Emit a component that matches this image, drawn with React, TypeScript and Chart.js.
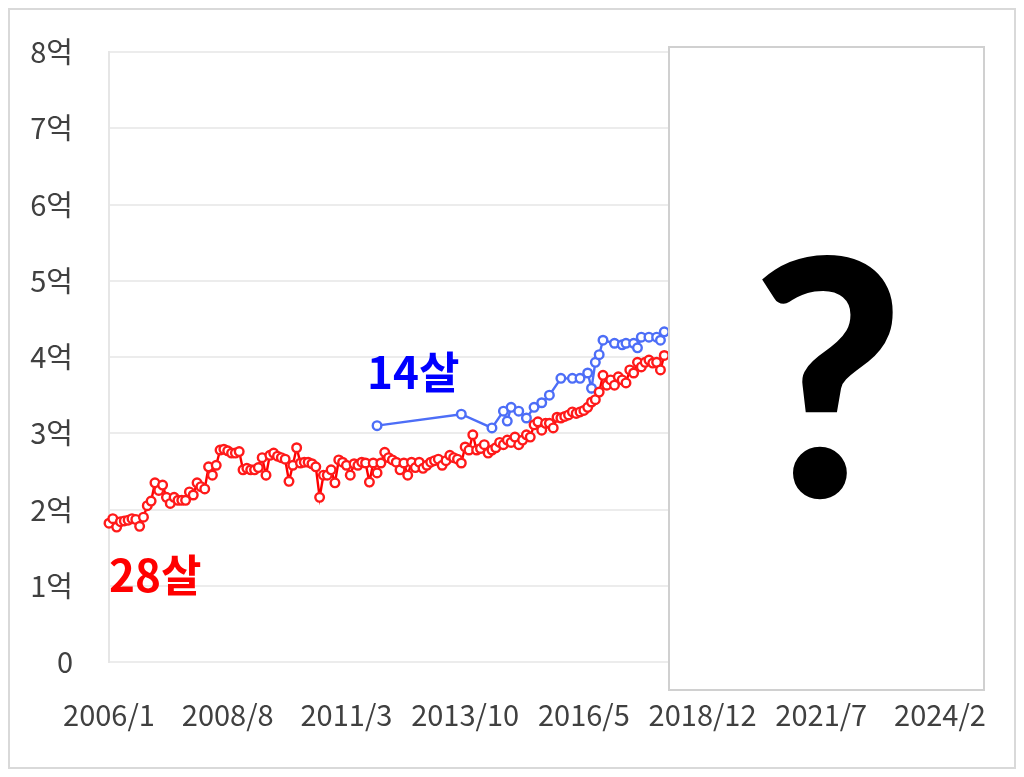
import React, { useEffect, useRef } from "react";
import { Chart, registerables } from "chart.js";

Chart.register(...registerables);

// ---- data ----
const startYear = 2006;
const monthCount = 218; // 2006/1 .. 2024/2
const tickLabels = ["2006/1", "2008/8", "2011/3", "2013/10", "2016/5", "2018/12", "2021/7", "2024/2"];
const yMax = 8;

// 28-year-old apartment, monthly from 2006/1 (억 won)
const age28Values = [
  1.82, 1.88, 1.77, 1.84, 1.85, 1.86, 1.88, 1.87, 1.78, 1.90,
  2.05, 2.11, 2.35, 2.25, 2.32, 2.16, 2.08, 2.16, 2.12, 2.12,
  2.12, 2.23, 2.19, 2.35, 2.30, 2.27, 2.56, 2.45, 2.58, 2.78,
  2.79, 2.77, 2.74, 2.74, 2.76, 2.52, 2.54, 2.52, 2.52, 2.55,
  2.68, 2.45, 2.71, 2.74, 2.70, 2.68, 2.66, 2.37, 2.58, 2.81,
  2.61, 2.62, 2.62, 2.60, 2.56, 2.16, 2.45, 2.45, 2.52, 2.35,
  2.65, 2.62, 2.58, 2.45, 2.60, 2.58, 2.62, 2.61, 2.36, 2.61,
  2.48, 2.61, 2.75, 2.68, 2.65, 2.62, 2.52, 2.61, 2.45, 2.62,
  2.55, 2.62, 2.54, 2.58, 2.62, 2.64, 2.66, 2.58, 2.64, 2.71,
  2.68, 2.66, 2.61, 2.82, 2.78, 2.98, 2.78, 2.80, 2.85, 2.74,
  2.78, 2.81, 2.88, 2.85, 2.91, 2.88, 2.95, 2.85, 2.91, 2.98,
  2.95, 3.11, 3.15, 3.04, 3.13, 3.13, 3.07, 3.21, 3.20, 3.22,
  3.24, 3.28, 3.26, 3.28, 3.30, 3.34, 3.41, 3.44, 3.54, 3.76,
  3.63, 3.70, 3.63, 3.74, 3.70, 3.66, 3.83, 3.79, 3.93, 3.87,
  3.93, 3.96, 3.92, 3.93, 3.83, 4.02,
];

// 14-year-old apartment: sparse months (index from 2006/1) and values
const age14Months = [70, 92, 100, 103, 104, 105, 107, 109, 111, 113, 115, 118, 121, 123, 125, 126, 127, 128, 129, 132, 134, 135, 137, 138, 139, 141, 143, 144, 145];
const age14Values = [3.10, 3.25, 3.07, 3.29, 3.16, 3.34, 3.29, 3.20, 3.34, 3.40, 3.50, 3.72, 3.72, 3.72, 3.79, 3.59, 3.93, 4.03, 4.22, 4.18, 4.16, 4.18, 4.18, 4.12, 4.26, 4.26, 4.26, 4.22, 4.33];

const label28 = "28살";
const label14 = "14살";
const hiddenMark = "?";

const months: string[] = [];
for (let k = 0; k < monthCount; k++) {
  months.push(`${startYear + Math.floor(k / 12)}/${(k % 12) + 1}`);
}

const FONT = '"Noto Sans CJK KR", "Malgun Gothic", sans-serif';
const CLEAR = "rgba(0,0,0,0)";

const overlayPlugin = {
  id: "overlay",
  afterDatasetsDraw(chart: any) {
    const { ctx } = chart;
    ctx.save();
    // series labels
    ctx.textBaseline = "alphabetic";
    ctx.textAlign = "left";
    ctx.font = `bold 44px ${FONT}`;
    ctx.fillStyle = "#ff0000";
    ctx.fillText(label28, 99, 582);
    ctx.fillStyle = "#0000ff";
    ctx.fillText(label14, 357, 379);

    // cover box with question mark
    ctx.fillStyle = "#ffffff";
    ctx.fillRect(659, 37, 315, 643);
    ctx.strokeStyle = "#d0d0d0";
    ctx.lineWidth = 2;
    ctx.strokeRect(659, 37, 315, 643);
    ctx.fillStyle = "#000000";
    ctx.textAlign = "center";
    ctx.font = `900 330px Lato, "Noto Sans", sans-serif`;
    ctx.fillText(hiddenMark, 818, 487);
    ctx.restore();
  },
};

export default function App() {
  const ref = useRef<HTMLCanvasElement | null>(null);

  useEffect(() => {
    if (!ref.current) return;
    const chart = new Chart(ref.current, {
      type: "line",
      data: {
        labels: months,
        datasets: [
          {
            label: label28,
            data: age28Values,
            borderColor: "#ff0000",
            backgroundColor: "#ffffff",
            pointBackgroundColor: "#ffffff",
            pointBorderColor: "#ff1a1a",
            borderWidth: 2.4,
            pointRadius: 4.3,
            pointBorderWidth: 2.4,
            tension: 0,
          },
          {
            label: label14,
            data: age14Months.map((m, i) => ({ x: months[m], y: age14Values[i] })) as any,
            borderColor: "#4d6ef7",
            backgroundColor: "#ffffff",
            pointBackgroundColor: "#ffffff",
            pointBorderColor: "#4d6ef7",
            borderWidth: 2.4,
            pointRadius: 4.3,
            pointBorderWidth: 2.4,
            tension: 0,
          },
        ],
      },
      options: {
        animation: false,
        responsive: true,
        maintainAspectRatio: false,
        layout: { padding: { top: 42, right: 74, left: 0, bottom: 0 } },
        plugins: {
          legend: { display: false },
          tooltip: { enabled: false },
        },
        scales: {
          x: {
            type: "category",
            offset: false,
            grid: { display: true, color: CLEAR, drawTicks: true, tickLength: 36, tickColor: CLEAR },
            border: { display: false },
            afterFit: (s: any) => {
              s.height = 105;
            },
            ticks: {
              autoSkip: false,
              maxRotation: 0,
              minRotation: 0,
              padding: 0,
              color: "#404040",
              font: { family: FONT, size: 29 },
              callback: function (this: any, _v: any, idx: number) {
                const lab = months[idx];
                return tickLabels.includes(lab) ? lab : null;
              },
            },
          },
          y: {
            min: 0,
            max: yMax,
            grid: { color: "#ececec", lineWidth: 2, drawTicks: true, tickLength: 36, tickColor: CLEAR },
            border: { display: true, color: "#e6e6e6", width: 2 },
            afterFit: (s: any) => {
              s.width = 99;
            },
            ticks: {
              stepSize: 1,
              padding: 0,
              color: "#404040",
              font: { family: FONT, size: 29 },
              callback: (v: any) => (Number(v) === 0 ? "0" : `${v}억`),
            },
          },
        },
      },
      plugins: [overlayPlugin],
    });
    return () => chart.destroy();
  }, []);

  return (
    <div
      style={{
        width: 1008,
        height: 761,
        border: "2px solid #d9d9d9",
        boxSizing: "border-box",
        background: "#ffffff",
      }}
    >
      <div style={{ width: 1004, height: 757, position: "relative" }}>
        <canvas ref={ref} />
      </div>
    </div>
  );
}
